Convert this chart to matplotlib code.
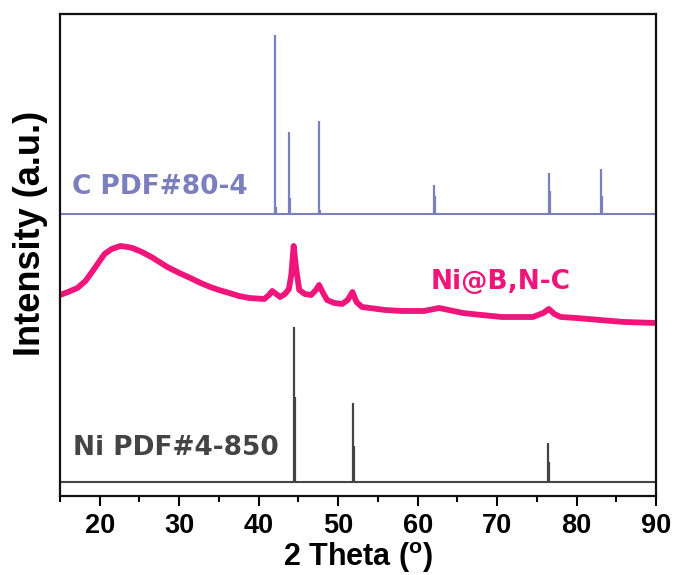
import numpy as np
import matplotlib
matplotlib.use('Agg')
import matplotlib.pyplot as plt
from matplotlib.ticker import MultipleLocator

# reference stick patterns: 2theta, relative intensity (%)
c_pos = [42.0, 42.15, 43.8, 43.95, 47.6, 47.7, 62.1, 62.2, 76.5, 76.65, 83.05, 83.2]
c_int = [100, 4, 46, 9, 52, 2, 16, 10, 23, 13, 25, 10]

ni_pos = [44.5, 44.62, 51.85, 51.98, 76.4, 76.58]
ni_int = [100, 55, 51, 23, 25, 13]

# measured pattern of Ni@B,N-C (offset trace)
theta = [15, 16, 17.2, 18.2, 19.2, 20.6, 21.5, 22.6, 23.5, 24.1, 25.3, 26.5, 27.5,
         28.5, 30, 31.4, 32.7, 33.9, 35, 36.3, 37.5, 38.8, 40.7, 41.3, 41.7, 42.2,
         42.7, 43.3, 43.8, 44.1, 44.4, 44.7, 45.1, 45.8, 46.6, 47.2, 47.6, 48.1,
         48.6, 49.5, 50.5, 51.2, 51.8, 52.3, 53.0, 55.9, 58, 60.8, 62.7, 64.5,
         65.7, 68, 70.6, 74.5, 75.8, 76.5, 77.2, 78.0, 80, 82.9, 86, 90]
counts = [201, 204, 208, 215, 226, 242, 247, 250, 249, 248, 244, 239, 234,
          229, 223, 218, 213, 209, 206, 203, 200, 198, 197, 201, 205, 202,
          199, 202, 207, 221, 250, 228, 206, 202, 201, 206, 211, 203,
          196, 193, 192, 196, 204, 194, 189, 186, 185, 185, 188, 185,
          183, 181, 179, 179, 183, 187, 182, 179, 178, 176, 174, 173]

c_base, c_scale = 282, 1.79
ni_base, ni_scale = 14, 1.55

c_col = '#7b7fbd'
ni_col = '#444444'
pk_col = '#f0157a'

lab_font = dict(fontsize=19, fontweight='bold', family='DejaVu Sans')

fig = plt.figure(figsize=(6.76, 5.75), dpi=100)
ax = fig.add_axes([0.0888, 0.1374, 0.8817, 0.8383])

# C PDF#80-4
ax.axhline(c_base, color=c_col, lw=1.5)
ax.vlines(c_pos, c_base, c_base + np.array(c_int) * c_scale, color=c_col, lw=1.6)
ax.text(16.5, 309, 'C PDF#80-4', color=c_col, va='center', **lab_font)

# Ni@B,N-C
ax.plot(theta, counts, color=pk_col, lw=4.2, solid_joinstyle='round')
ax.text(70.4, 214, 'Ni@B,N-C', color=pk_col, ha='center', va='center', **lab_font)

# Ni PDF#4-850
ax.axhline(ni_base, color=ni_col, lw=1.5)
ax.vlines(ni_pos, ni_base, ni_base + np.array(ni_int) * ni_scale, color=ni_col, lw=1.6)
ax.text(16.6, 48, 'Ni PDF#4-850', color=ni_col, va='center', **lab_font)

ax.set_xlim(15, 90)
ax.set_ylim(0, 482)
ax.xaxis.set_major_locator(MultipleLocator(10))
ax.xaxis.set_minor_locator(MultipleLocator(5))
ax.set_yticks([])
ax.tick_params(axis='x', which='major', direction='out', length=7, width=1.5, pad=5)
ax.tick_params(axis='x', which='minor', direction='out', length=4, width=1.5)
for lab in ax.get_xticklabels():
    lab.set_family('Liberation Sans')
    lab.set_fontsize(19.5)
    lab.set_fontweight('bold')
for sp in ax.spines.values():
    sp.set_linewidth(1.6)
    sp.set_color('#111111')

ax.set_xlabel('2 Theta ($\\mathregular{^o}$)', fontsize=22, fontweight='bold',
              family='Liberation Sans', labelpad=1)
ax.set_ylabel('Intensity (a.u.)', fontsize=26, fontweight='bold',
              family='Liberation Sans')
ax.yaxis.set_label_coords(-0.02, 0.545)

fig.savefig('out.png', dpi=100)
